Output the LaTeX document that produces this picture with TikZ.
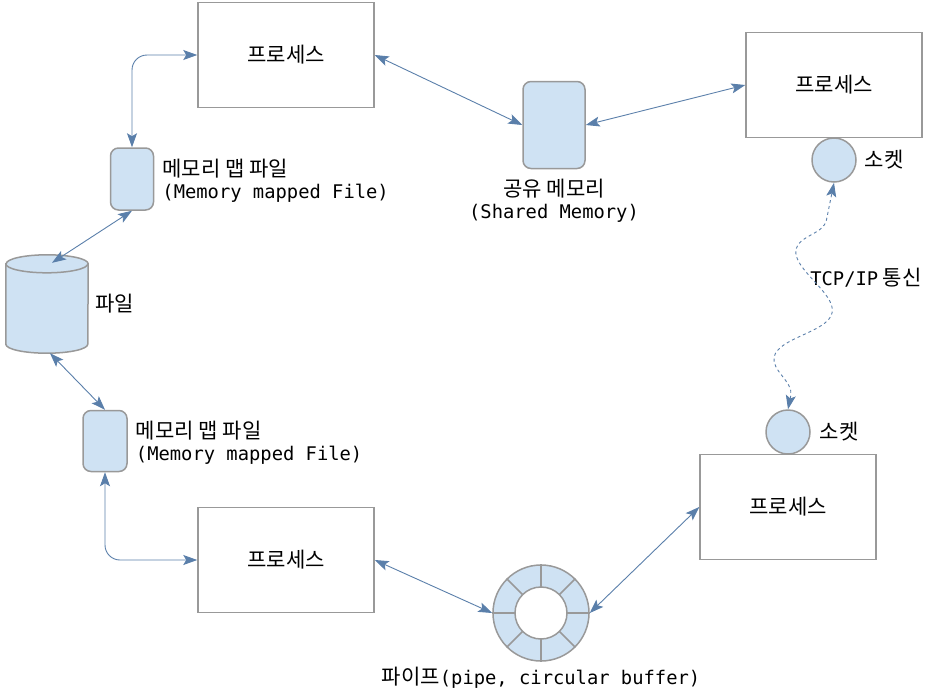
\documentclass[tikz,border=0pt]{standalone}
\usepackage{fontspec}
\setmainfont{Noto Sans CJK KR}[Scale=1.12]
\setmonofont{DejaVu Sans Mono}
\usepackage{tikz}
\usetikzlibrary{
  arrows.meta, positioning, decorations.pathmorphing
}
\definecolor{memfill}{HTML}{CFE2F3}
\definecolor{lineg}{HTML}{999999}
\definecolor{arrowc}{HTML}{5A7FAA}
\newcommand{\lat}[1]{{\ttfamily #1}}

\begin{document}
\begin{tikzpicture}[x=1pt, y=-1pt,
  font=\fontsize{18.8}{22}\selectfont,
  proc/.style={draw=lineg, line width=1.5pt, rectangle, minimum width=176pt, minimum height=105pt},
  mem/.style={draw=lineg, line width=1.5pt, fill=memfill, rectangle, rounded corners=8pt},
  sock/.style={draw=lineg, line width=1.5pt, fill=memfill, circle, minimum size=44pt, inner sep=0pt},
  lbl/.style={inner sep=0pt, align=left},
  link/.style={draw=arrowc, line width=0.9pt,
    {Stealth[length=14pt,width=10pt,inset=3pt]}-{Stealth[length=14pt,width=10pt,inset=3pt]}}
]
\useasboundingbox (0,0) rectangle (929,697);

\node (P1) [proc] at (286,55) {프로세스};
\node (P2) [proc] at (834,85) {프로세스};
\node (P3) [proc] at (286,560) {프로세스};
\node (P4) [proc] at (788,507) {프로세스};

\node (SM) [mem, minimum width=62pt, minimum height=87pt] at (554,125) {};
\node (SMt) [lbl, align=center, below=10pt of SM] {공유 메모리\\\lat{(Shared Memory)}};

\node (M1) [mem, minimum width=43pt, minimum height=62pt] at (132,179) {};
\node (M1t) [lbl, right=8pt of M1, yshift=-2pt] {메모리 맵 파일\\\lat{(Memory mapped File)}};
\node (M2) [mem, minimum width=44pt, minimum height=61pt] at (105,441) {};
\node (M2t) [lbl, right=8pt of M2, yshift=-2pt] {메모리 맵 파일\\\lat{(Memory mapped File)}};

% file drum
\node (F) [rectangle, minimum width=82pt, minimum height=98pt, inner sep=0pt] at (47,304) {};
\draw[lineg, line width=1.5pt, fill=memfill]
  ([yshift=-9pt]F.north west) -- ([yshift=9pt]F.south west)
  arc[start angle=180, end angle=360, x radius=41pt, y radius=9pt]
  -- ([yshift=-9pt]F.north east)
  arc[start angle=0, end angle=180, x radius=41pt, y radius=9pt] -- cycle;
\draw[lineg, line width=1.5pt]
  ([yshift=-9pt]F.north west) arc[start angle=180, end angle=360, x radius=41pt, y radius=9pt];
\node (Ft) [lbl, right=7pt of F] {파일};

\node (S1) [sock] at (834,160) {};
\node (S1t) [lbl, right=8pt of S1] {소켓};
\node (S2) [sock] at (788,432) {};
\node (S2t) [lbl, right=9pt of S2] {소켓};

% ring buffer
\node (R) [circle, draw=lineg, line width=1.5pt, fill=memfill, minimum size=96pt, inner sep=0pt] at (541,613) {};
\draw[lineg, line width=1.5pt, fill=white] (R.center) circle (26pt);
\foreach \a in {0,45,...,315}
  \draw[lineg, line width=1.5pt] ([shift={(\a:26pt)}]R.center) -- (R.\a);
\node (Rt) [lbl, below=5pt of R] {파이프\lat{(pipe, circular buffer)}};

\node (TC) [lbl] at (866,278) {\lat{TCP/IP} 통신};

\draw[link, rounded corners=15pt] (M1.north) |- (P1.west);
\draw[link] (M1.south) -- ([xshift=5pt,yshift=-8pt]F.north);
\draw[link] ([xshift=3pt]F.south) -- (M2.north);
\draw[link, rounded corners=15pt] (M2.south) |- (P3.west);
\draw[link] (P1.east) -- (SM.west);
\draw[link] (SM.east) -- (P2.west);
\draw[link] (P3.east) -- (R.west);
\draw[link] (R.east) -- (P4.west);
\draw[link, dashed, decorate,
  decoration={snake, amplitude=24pt, segment length=110pt, pre length=14pt, post length=14pt}]
  (S2.north) -- (S1.south);
\end{tikzpicture}
\end{document}
